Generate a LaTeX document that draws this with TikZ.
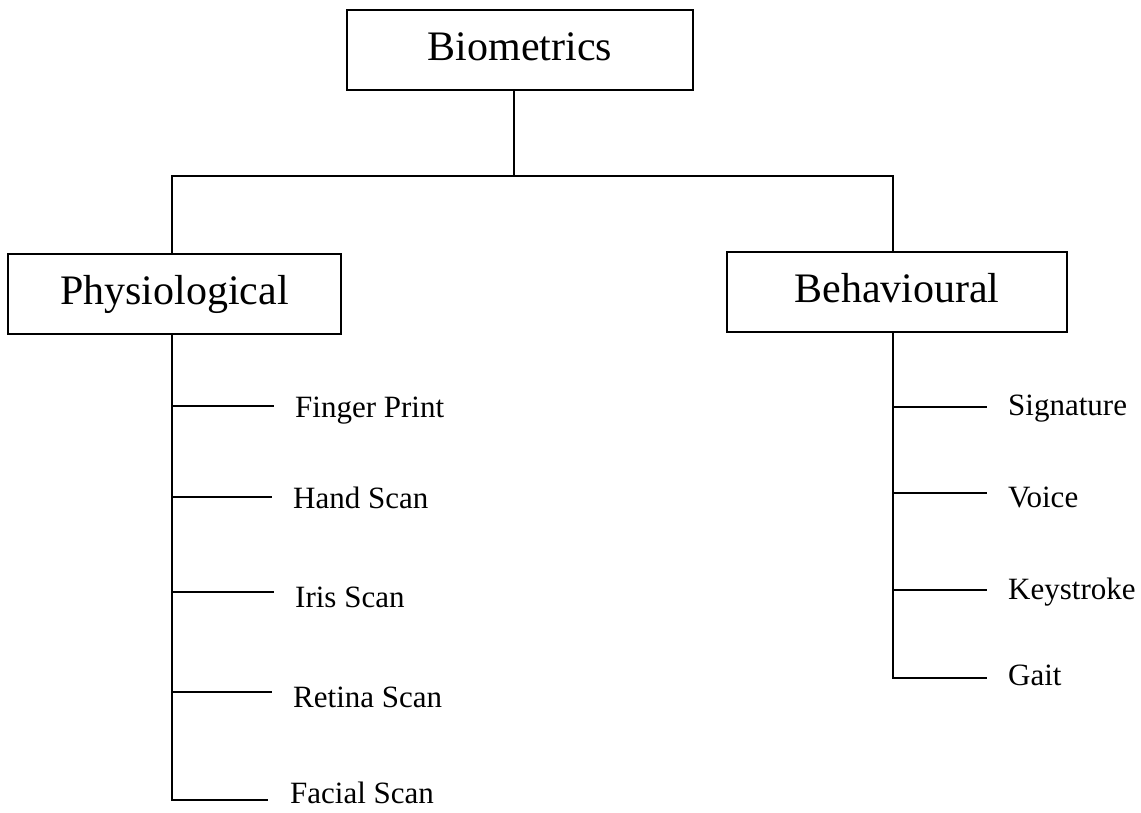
\documentclass[tikz,border=0pt]{standalone}
\usepackage{fontspec}
\setmainfont{Liberation Serif}
\tikzset{
  conn/.style={line width=2pt, line cap=rect},
  bigbox/.style={draw, line width=2pt, rectangle, inner sep=0pt, text height=30pt, text depth=10pt, font=\fontsize{42}{50}\selectfont},
  leaf/.style={anchor=base west, inner sep=0pt, font=\fontsize{31}{37}\selectfont}
}
\begin{document}
\begin{tikzpicture}[x=1pt,y=-1pt]
\useasboundingbox (0,0) rectangle (1141,812);
% boxes
\node[bigbox, minimum width=346pt, minimum height=80pt] (bio) at (520,50) {Biometrics};
\node[bigbox, minimum width=333pt, minimum height=80pt] (phys) at (174.5,294) {Physiological};
\node[bigbox, minimum width=340pt, minimum height=80pt] (behav) at (897,292) {Behavioural};
% junctions
\coordinate (jm) at (514,176);
\coordinate (jl) at (172,176);
\coordinate (jr) at (893,176);
\draw[conn] (bio.south -| jm) -- (jm);
\draw[conn] (jl) -- (jr);
\draw[conn] (jl) -- (phys.north -| jl);
\draw[conn] (jr) -- (behav.north -| jr);
% left trunk
\coordinate (lend) at (172,800);
\draw[conn] (phys.south -| lend) -- (lend);
\coordinate (l1) at (172,406); \coordinate (e1) at (273,406);
\coordinate (l2) at (172,497); \coordinate (e2) at (271,497);
\coordinate (l3) at (172,592); \coordinate (e3) at (273,592);
\coordinate (l4) at (172,692); \coordinate (e4) at (271,692);
\coordinate (e5) at (267,800);
\draw[conn] (l1) -- (e1);
\draw[conn] (l2) -- (e2);
\draw[conn] (l3) -- (e3);
\draw[conn] (l4) -- (e4);
\draw[conn] (lend) -- (e5);
\node[leaf] (fp) at (295,417) {Finger Print};
\node[leaf] (hs) at (293,508) {Hand Scan};
\node[leaf] (is) at (295,607) {Iris Scan};
\node[leaf] (rs) at (293,707) {Retina Scan};
\node[leaf] (fs) at (290,803) {Facial Scan};
% right trunk
\coordinate (rend) at (893,678);
\draw[conn] (behav.south -| rend) -- (rend);
\coordinate (r1) at (893,407); \coordinate (f1) at (986,407);
\coordinate (r2) at (893,493); \coordinate (f2) at (986,493);
\coordinate (r3) at (893,590); \coordinate (f3) at (986,590);
\coordinate (f4) at (986,678);
\draw[conn] (r1) -- (f1);
\draw[conn] (r2) -- (f2);
\draw[conn] (r3) -- (f3);
\draw[conn] (rend) -- (f4);
\node[leaf] (sg) at (1008,415) {Signature};
\node[leaf] (vc) at (1008,507) {Voice};
\node[leaf] (ks) at (1008,599) {Keystroke};
\node[leaf] (gt) at (1008,685) {Gait};
\end{tikzpicture}
\end{document}
